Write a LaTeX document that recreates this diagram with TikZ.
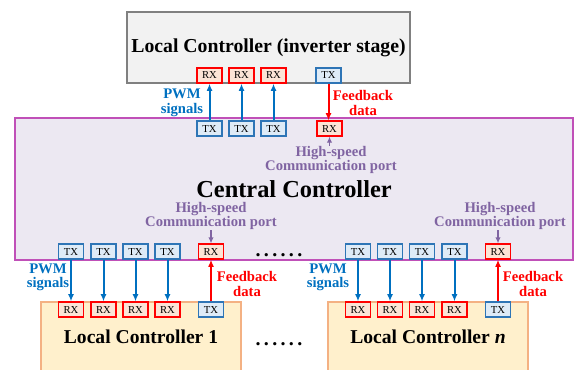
\documentclass[tikz,border=0pt]{standalone}
\usepackage{fontspec}
\setmainfont{Liberation Serif}
\usetikzlibrary{arrows.meta,positioning}
\definecolor{txfill}{RGB}{222,235,247}
\definecolor{txline}{RGB}{46,117,182}
\definecolor{rxfill}{RGB}{252,228,214}
\definecolor{rxline}{RGB}{255,0,0}
\definecolor{pwmblue}{RGB}{0,112,192}
\definecolor{hspurple}{RGB}{128,100,162}
\definecolor{ccfill}{RGB}{236,232,242}
\definecolor{ccline}{RGB}{192,80,184}
\definecolor{lcfill}{RGB}{255,240,204}
\definecolor{lcline}{RGB}{244,177,131}
\definecolor{topfill}{RGB}{242,242,242}
\definecolor{topline}{RGB}{128,128,128}
\tikzset{
  port/.style={draw, line width=0.9pt, minimum width=18.75pt, minimum height=11.25pt,
    inner sep=0pt, font=\fontsize{8}{8}\selectfont},
  txport/.style={port, draw=txline, fill=txfill},
  rxport/.style={port, draw=rxline, fill=rxfill},
  pwmarrow/.style={draw=pwmblue, line width=1.5pt, -{Latex[length=5.5pt,width=4.5pt]}},
  fbarrow/.style={draw=red, line width=1.5pt, -{Latex[length=5.5pt,width=4.5pt]}},
  hsarrow/.style={draw=hspurple, line width=1.1pt, -{Latex[length=4.5pt,width=4pt]}},
  smalllabel/.style={align=center, inner sep=0pt, font=\bfseries\fontsize{11}{10.8}\selectfont},
  pwmlabel/.style={smalllabel, text=pwmblue},
  fblabel/.style={smalllabel, text=red},
  hslabel/.style={smalllabel, text=hspurple},
  dotsrow/.style={anchor=base, inner sep=0pt, font=\bfseries\fontsize{15}{15}\selectfont}
}
\begin{document}
\begin{tikzpicture}[x=0.75pt,y=-0.75pt]
\useasboundingbox (0,0) rectangle (574,369);

% big boxes
\node [draw=topline, fill=topfill, line width=1.1pt, minimum width=212.25pt, minimum height=53.25pt,
  font=\bfseries\fontsize{14.8}{14.8}\selectfont] (inv) at (268.5,47.5) {Local Controller (inverter stage)};
\node [draw=ccline, fill=ccfill, line width=1.1pt, minimum width=418.5pt, minimum height=106.5pt,
  font=\bfseries\fontsize{18.3}{18.3}\selectfont] (cc) at (294,189) {Central Controller};
\node [draw=lcline, fill=lcfill, line width=1.1pt, minimum width=150pt, minimum height=52.5pt,
  font=\bfseries\fontsize{14.7}{14.7}\selectfont] (lc1) at (141,337) {Local Controller 1};
\node [draw=lcline, fill=lcfill, line width=1.1pt, minimum width=150pt, minimum height=52.5pt,
  font=\bfseries\fontsize{14.7}{14.7}\selectfont] (lcn) at (428,337) {Local Controller \textit{n}};

% ports of the inverter stage
\node [rxport] (invrx1) at (209.5,75.5) {RX};
\node [rxport] (invrx2) at (241.5,75.5) {RX};
\node [rxport] (invrx3) at (273.5,75.5) {RX};
\node [txport] (invtx) at (328.5,75.5) {TX};

% upper ports of the central controller
\node [txport] (cctx1) at (209.5,128.5) {TX};
\node [txport] (cctx2) at (241.5,128.5) {TX};
\node [txport] (cctx3) at (273.5,128.5) {TX};
\node [rxport] (ccrx) at (329.5,128.5) {RX};

% lower ports of the central controller
\node [txport] (catx1) at (71,251.5) {TX};
\node [txport] (catx2) at (103.5,251.5) {TX};
\node [txport] (catx3) at (135.5,251.5) {TX};
\node [txport] (catx4) at (167.5,251.5) {TX};
\node [rxport] (carx) at (211,251.5) {RX};
\node [txport] (cbtx1) at (358,251.5) {TX};
\node [txport] (cbtx2) at (390,251.5) {TX};
\node [txport] (cbtx3) at (422,251.5) {TX};
\node [txport] (cbtx4) at (454.5,251.5) {TX};
\node [rxport] (cbrx) at (498,251.5) {RX};

% ports of the local controllers
\node [rxport] (l1rx1) at (71,309.5) {RX};
\node [rxport] (l1rx2) at (103.5,309.5) {RX};
\node [rxport] (l1rx3) at (135.5,309.5) {RX};
\node [rxport] (l1rx4) at (167.5,309.5) {RX};
\node [txport] (l1tx) at (211,309.5) {TX};
\node [rxport] (lnrx1) at (358,309.5) {RX};
\node [rxport] (lnrx2) at (390,309.5) {RX};
\node [rxport] (lnrx3) at (422,309.5) {RX};
\node [rxport] (lnrx4) at (454.5,309.5) {RX};
\node [txport] (lntx) at (498,309.5) {TX};

% labels
\node [pwmlabel] (pwmtop) at (182,103) {PWM\\signals};
\node [fblabel] (fbtop) at (363,103) {Feedback\\data};
\node [pwmlabel] (pwm1) at (48,277.5) {PWM\\signals};
\node [fblabel] (fb1) at (247,284) {Feedback\\data};
\node [pwmlabel] (pwmn) at (328,277.5) {PWM\\signals};
\node [fblabel] (fbn) at (533,284) {Feedback\\data};
\node [hslabel] (hstop) at (331,160) {High-speed\\Communication port};
\node [hslabel] (hsa) at (211,216) {High-speed\\Communication port};
\node [hslabel] (hsb) at (500,216) {High-speed\\Communication port};
\node [dotsrow] (dotsa) at (279,256) {.\,.\,.\,.\,.\,.};
\node [dotsrow] (dotsb) at (279,345) {.\,.\,.\,.\,.\,.};

% links to the inverter stage
\draw [pwmarrow] (cctx1) -- (invrx1);
\draw [pwmarrow] (cctx2) -- (invrx2);
\draw [pwmarrow] (cctx3) -- (invrx3);
\draw [fbarrow] (invtx.south) -- (ccrx.north -| invtx.south);
\draw [hsarrow] (hstop.north -| ccrx) -- (ccrx);

% links to local controller 1
\draw [pwmarrow] (catx1) -- (l1rx1);
\draw [pwmarrow] (catx2) -- (l1rx2);
\draw [pwmarrow] (catx3) -- (l1rx3);
\draw [pwmarrow] (catx4) -- (l1rx4);
\draw [fbarrow] (l1tx) -- (carx);
\draw [hsarrow] (hsa.south -| carx) -- (carx);

% links to local controller n
\draw [pwmarrow] (cbtx1) -- (lnrx1);
\draw [pwmarrow] (cbtx2) -- (lnrx2);
\draw [pwmarrow] (cbtx3) -- (lnrx3);
\draw [pwmarrow] (cbtx4) -- (lnrx4);
\draw [fbarrow] (lntx) -- (cbrx);
\draw [hsarrow] (hsb.south -| cbrx) -- (cbrx);

\end{tikzpicture}
\end{document}
